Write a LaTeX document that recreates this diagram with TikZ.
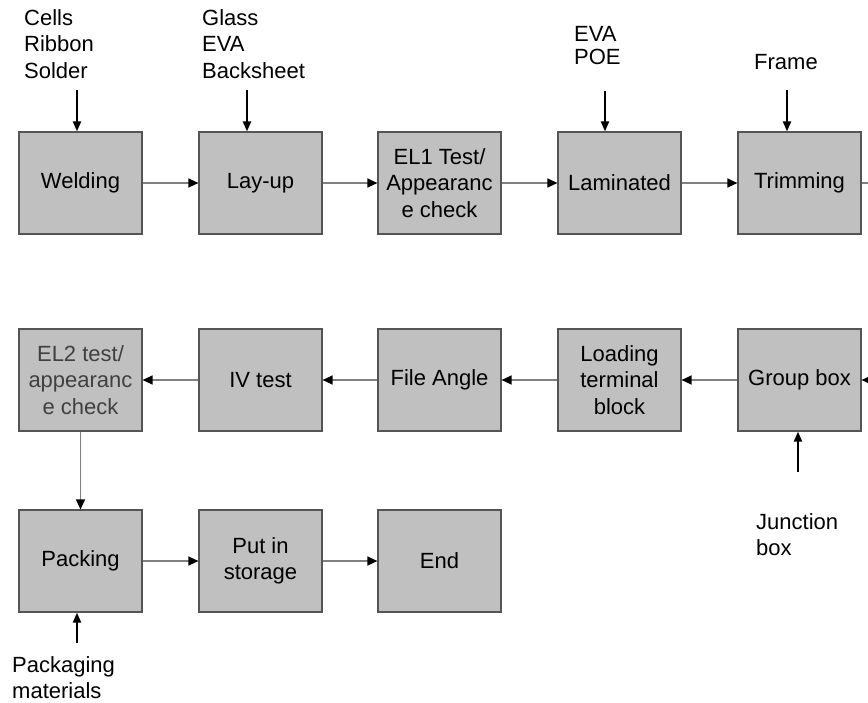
\documentclass[tikz,border=0pt]{standalone}
\usepackage{fontspec}
\setmainfont{Liberation Sans}
\usetikzlibrary{arrows.meta}
\definecolor{boxfill}{HTML}{C0C0C0}
\definecolor{boxline}{HTML}{555555}
\definecolor{conn}{HTML}{808080}
\begin{document}
\begin{tikzpicture}[x=1pt,y=-1pt,
  every node/.style={font=\fontsize{22}{26.5}\selectfont},
  procbox/.style={draw=boxline,fill=boxfill,line width=1.2pt,minimum width=123pt,minimum height=102pt,inner sep=0pt,align=center,text=black},
  flow/.style={draw=conn,line width=1.3pt,arrows={-{Triangle[length=10pt,width=9pt,color=black]}}},
  plainflow/.style={draw=conn,line width=1.3pt},
  inarrow/.style={draw=black,line width=2pt,-{Triangle[length=10pt,width=8pt]}},
  lbl/.style={anchor=north west,inner sep=0pt,align=left}]
\useasboundingbox (0,0) rectangle (868,702);
% row 1
\node[procbox] (weld) at (80.5,183) {Welding};
\node[procbox] (layup) at (260.5,183) {Lay-up};
\node[procbox] (el1) at (439.5,183) {EL1 Test/\\Appearanc\\e check};
\node[procbox] (lam) at (619.5,183) {Laminated};
\node[procbox] (trim) at (799.5,183) {Trimming};
% row 2
\node[procbox,text=black!75] (el2) at (80.5,380) {EL2 test/\\appearanc\\e check};
\node[procbox] (iv) at (260.5,380) {IV test};
\node[procbox] (file) at (439.5,380) {File Angle};
\node[procbox] (load) at (619.5,380) {Loading\\terminal\\block};
\node[procbox] (group) at (799.5,380) {Group box};
% row 3
\node[procbox] (pack) at (80.5,561) {Packing};
\node[procbox] (store) at (260.5,561) {Put in\\storage};
\node[procbox] (endb) at (439.5,561) {End};
% edge coordinates
\coordinate (outR) at (868,183);
\coordinate (inR) at (868,380);
% connectors
\draw[flow] (weld) -- (layup);
\draw[flow] (layup) -- (el1);
\draw[flow] (el1) -- (lam);
\draw[flow] (lam) -- (trim);
\draw[plainflow] (trim.east) -- (outR);
\draw[flow] (inR) -- (group.east);
\draw[flow] (group) -- (load);
\draw[flow] (load) -- (file);
\draw[flow] (file) -- (iv);
\draw[flow] (iv) -- (el2);
\draw[flow] (el2) -- (pack);
\draw[flow] (pack) -- (store);
\draw[flow] (store) -- (endb);
% input labels
\node[lbl] (lcells) at (24,9) {Cells\\Ribbon\\Solder};
\node[lbl] (lglass) at (202,9) {Glass\\EVA\\Backsheet};
\node[lbl,font=\fontsize{22}{23.5}\selectfont] (leva) at (574,26) {EVA\\POE};
\node[lbl] (lframe) at (754,54) {Frame};
\node[lbl] (ljunc) at (756,513) {Junction\\box};
\node[lbl] (lpack) at (12,656) {Packaging\\materials};
% input arrows
\coordinate (aCells) at (77,90);
\coordinate (aGlass) at (247,90);
\coordinate (aEva) at (605,91);
\coordinate (aFrame) at (787,90);
\coordinate (aJunc) at (798,472);
\coordinate (aPack) at (77,643);
\draw[inarrow] (aCells) -- (aCells |- weld.north);
\draw[inarrow] (aGlass) -- (aGlass |- layup.north);
\draw[inarrow] (aEva) -- (aEva |- lam.north);
\draw[inarrow] (aFrame) -- (aFrame |- trim.north);
\draw[inarrow] (aJunc) -- (aJunc |- group.south);
\draw[inarrow] (aPack) -- (aPack |- pack.south);
\end{tikzpicture}
\end{document}
